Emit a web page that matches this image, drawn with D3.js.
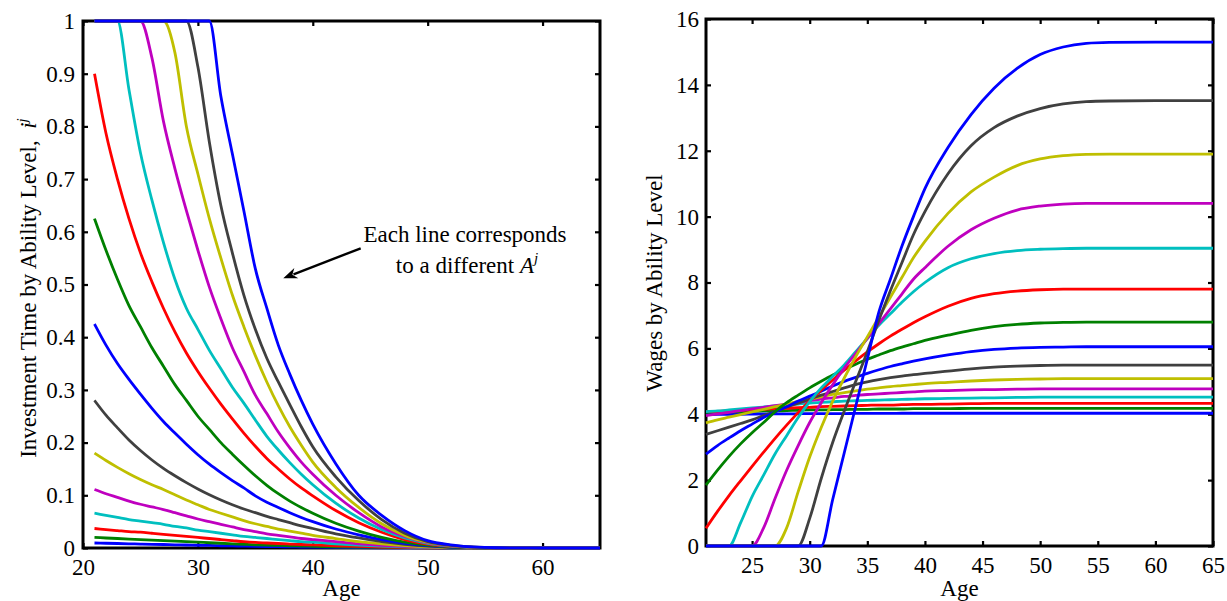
<!DOCTYPE html>
<html><head><meta charset="utf-8">
<script src="https://cdn.jsdelivr.net/npm/d3@7"></script>
<style>
body{margin:0;background:#fff;}
svg text{font-family:"Liberation Serif","Times New Roman",serif !important;fill:#000;}
</style></head><body>
<svg id="chart" width="1227" height="601"></svg>
<script>
// ---- data (ages shared by both panels) ----
const ages = [21,22,23,24,25,26,27,28,29,30,31,32,33,34,35,36,37,38,39,40,42,44,46,48,50,52,54,56,60,65];

// Investment time by ability level (left panel), lowest ability first
const invest01 = [.0095,.009,.0085,.008,.0075,.007,.0066,.0061,.0057,.0052,.0048,.0043,.0039,.0035,.0031,.0028,.0025,.0022,.0019,.0017,.0012,.0008,.0005,.0003,.0001,0,0,0,0,0];
const invest02 = [.02,.019,.018,.017,.016,.015,.014,.013,.012,.011,.01,.009,.008,.007,.006,.0054,.0048,.0042,.0037,.0032,.0024,.0017,.0011,.0006,.0003,.0001,0,0,0,0];
const invest03 = [.037,.035,.033,.031,.03,.028,.026,.024,.022,.02,.018,.016,.014,.012,.0105,.0095,.0085,.0075,.0066,.0058,.0043,.003,.0019,.0011,.0005,.0002,.0001,0,0,0];
const invest04 = [.066,.062,.058,.054,.051,.048,.045,.041,.038,.034,.031,.028,.025,.022,.02,.018,.016,.014,.012,.011,.008,.0055,.0035,.002,.001,.0004,.0001,0,0,0];
const invest05 = [.111,.103,.096,.089,.083,.078,.073,.067,.061,.055,.05,.045,.04,.035,.031,.027,.024,.021,.018,.016,.012,.008,.005,.003,.0015,.0006,.0002,0,0,0];
const invest06 = [.18,.166,.153,.141,.13,.12,.111,.101,.091,.082,.073,.066,.059,.052,.046,.041,.036,.032,.028,.024,.018,.012,.0078,.0045,.0022,.0009,.0003,.0001,0,0];
const invest07 = [.28,.252,.228,.205,.185,.167,.151,.137,.124,.112,.101,.091,.082,.074,.067,.06,.054,.048,.042,.037,.027,.019,.012,.007,.0035,.0014,.0005,.0001,0,0];
const invest08 = [.425,.385,.35,.32,.292,.265,.24,.218,.197,.177,.159,.143,.128,.114,.099,.087,.077,.067,.058,.05,.036,.025,.016,.009,.0045,.0018,.0006,.0002,0,0];
const invest09 = [.625,.565,.51,.46,.42,.38,.345,.31,.28,.25,.225,.2,.178,.157,.137,.119,.103,.089,.077,.066,.047,.032,.02,.011,.0055,.0022,.0008,.0002,0,0];
const invest10 = [.9,.787,.7,.625,.56,.505,.455,.41,.37,.335,.303,.273,.245,.218,.193,.17,.15,.131,.114,.099,.071,.048,.03,.016,.0075,.003,.001,.0003,0,0];
const invest11 = [1,1,1,.87,.75,.66,.58,.51,.455,.415,.375,.34,.305,.275,.243,.212,.186,.162,.14,.12,.085,.057,.035,.019,.009,.0035,.0012,.0003,0,0];
const invest12 = [1,1,1,1,1,.93,.81,.72,.64,.565,.495,.435,.38,.335,.29,.255,.22,.19,.163,.14,.1,.067,.04,.022,.01,.004,.0013,.0003,0,0];
const invest13 = [1,1,1,1,1,1,1,.94,.8,.71,.625,.55,.48,.42,.365,.315,.27,.23,.195,.163,.115,.077,.046,.024,.011,.0045,.0015,.0004,0,0];
const invest14 = [1,1,1,1,1,1,1,1,1,.913,.77,.65,.56,.48,.415,.36,.315,.272,.23,.192,.135,.09,.054,.028,.012,.005,.0018,.0005,0,0];
const invest15 = [1,1,1,1,1,1,1,1,1,1,1,.857,.748,.64,.53,.455,.385,.33,.28,.235,.16,.1,.062,.033,.014,.006,.002,.0005,0,0];

// Wages by ability level (right panel), lowest ability first
const wage01 = [3.99,3.995,4,4,4.005,4.01,4.01,4.01,4.015,4.02,4.02,4.02,4.02,4.025,4.025,4.025,4.025,4.03,4.03,4.03,4.03,4.03,4.03,4.03,4.03,4.03,4.03,4.03,4.03,4.03];
const wage02 = [4.06,4.065,4.07,4.08,4.09,4.1,4.1,4.11,4.12,4.13,4.13,4.14,4.14,4.15,4.15,4.16,4.16,4.16,4.17,4.17,4.17,4.18,4.18,4.18,4.18,4.18,4.18,4.18,4.18,4.18];
const wage03 = [4.08,4.09,4.1,4.12,4.13,4.15,4.17,4.18,4.2,4.21,4.23,4.24,4.25,4.26,4.27,4.28,4.28,4.29,4.3,4.3,4.31,4.32,4.33,4.33,4.33,4.33,4.33,4.33,4.33,4.33];
const wage04 = [4.08,4.1,4.13,4.16,4.19,4.22,4.25,4.28,4.31,4.34,4.36,4.38,4.4,4.41,4.42,4.43,4.44,4.45,4.46,4.47,4.48,4.49,4.5,4.51,4.52,4.52,4.52,4.52,4.52,4.52];
const wage05 = [3.96,4.01,4.06,4.11,4.16,4.21,4.26,4.31,4.36,4.41,4.46,4.5,4.54,4.57,4.6,4.62,4.64,4.66,4.68,4.7,4.72,4.74,4.75,4.76,4.77,4.77,4.77,4.77,4.77,4.77];
const wage06 = [3.74,3.83,3.91,3.99,4.07,4.15,4.23,4.31,4.39,4.46,4.53,4.6,4.66,4.71,4.76,4.8,4.84,4.87,4.9,4.93,4.97,5.01,5.04,5.06,5.07,5.08,5.08,5.08,5.08,5.08];
const wage07 = [3.39,3.5,3.61,3.72,3.83,3.96,4.09,4.22,4.34,4.46,4.58,4.69,4.8,4.9,4.98,5.05,5.11,5.16,5.2,5.24,5.31,5.38,5.43,5.46,5.48,5.49,5.49,5.49,5.49,5.49];
const wage08 = [2.79,3.05,3.28,3.5,3.7,3.9,4.07,4.23,4.4,4.55,4.7,4.86,5,5.12,5.24,5.35,5.45,5.53,5.61,5.68,5.8,5.9,5.97,6.01,6.03,6.04,6.05,6.05,6.05,6.05];
const wage09 = [1.85,2.3,2.72,3.1,3.44,3.75,4.08,4.35,4.58,4.8,5,5.19,5.36,5.52,5.67,5.8,5.93,6.04,6.14,6.24,6.4,6.55,6.66,6.73,6.77,6.79,6.8,6.8,6.8,6.8];
const wage10 = [.54,1.05,1.53,1.98,2.42,2.85,3.27,3.67,4.05,4.4,4.73,5.04,5.34,5.62,5.89,6.14,6.37,6.58,6.78,6.96,7.28,7.52,7.66,7.74,7.78,7.8,7.8,7.8,7.8,7.8];
const wage11 = [0,0,0,.7,1.5,2.15,2.8,3.35,3.9,4.38,4.8,5.15,5.5,5.9,6.3,6.7,7.05,7.4,7.72,8,8.45,8.72,8.88,8.97,9.01,9.03,9.04,9.04,9.04,9.04];
const wage12 = [0,0,0,0,0,.55,1.45,2.3,3.05,3.75,4.35,4.9,5.4,5.85,6.3,6.75,7.2,7.65,8.1,8.45,9.1,9.6,9.95,10.2,10.32,10.38,10.4,10.4,10.4,10.4];
const wage13 = [0,0,0,0,0,0,0,.55,1.65,2.7,3.6,4.4,5.1,5.75,6.35,6.95,7.55,8.15,8.75,9.25,10.1,10.75,11.2,11.55,11.75,11.85,11.89,11.9,11.9,11.9];
const wage14 = [0,0,0,0,0,0,0,0,0,.84,2.05,3.15,4.1,5,5.9,6.85,7.75,8.6,9.45,10.15,11.3,12.15,12.7,13.05,13.28,13.42,13.49,13.51,13.52,13.52];
const wage15 = [0,0,0,0,0,0,0,0,0,0,0,1.42,2.83,4.25,5.67,7.1,8.1,9.1,10,10.85,12.1,13.1,13.9,14.5,14.92,15.15,15.26,15.29,15.3,15.3];

// tick labels
const leftXTicks = [20,30,40,50,60];
const leftYTicks = [0,0.1,0.2,0.3,0.4,0.5,0.6,0.7,0.8,0.9,1];
const rightXTicks = [25,30,35,40,45,50,55,60,65];
const rightYTicks = [0,2,4,6,8,10,12,14,16];

const lineColors = ["#0000ff","#008000","#ff0000","#00bfbf","#bf00bf","#bfbf00","#404040"];

const investSeries = [invest01,invest02,invest03,invest04,invest05,invest06,invest07,invest08,invest09,invest10,invest11,invest12,invest13,invest14,invest15];
const wageSeries = [wage01,wage02,wage03,wage04,wage05,wage06,wage07,wage08,wage09,wage10,wage11,wage12,wage13,wage14,wage15];

// ---- drawing ----
const svg = d3.select("#chart");
const SERIF = "'Liberation Serif','Times New Roman',serif";
const FS_TICK = 23, FS_LABEL = 23;

function drawPanel(opt){
  const x = d3.scaleLinear().domain(opt.xDomain).range(opt.xRange);
  const y = d3.scaleLinear().domain(opt.yDomain).range(opt.yRange);
  const g = svg.append("g");
  const [x0,x1] = opt.xRange, [y0,y1] = opt.yRange; // y0 bottom, y1 top
  const fmt = d3.format("~g");

  const bottom = g.append("g").attr("transform",`translate(0,${y0})`)
    .call(d3.axisBottom(x).tickValues(opt.xTicks).tickFormat(fmt).tickSizeInner(-5).tickSizeOuter(0).tickPadding(11));
  const top = g.append("g").attr("transform",`translate(0,${y1})`)
    .call(d3.axisTop(x).tickValues(opt.xTicks).tickFormat("").tickSizeInner(-5).tickSizeOuter(0));
  const left = g.append("g").attr("transform",`translate(${x0},0)`)
    .call(d3.axisLeft(y).tickValues(opt.yTicks).tickFormat(fmt).tickSizeInner(-5).tickSizeOuter(0).tickPadding(opt.yPad));
  const right = g.append("g").attr("transform",`translate(${x1},0)`)
    .call(d3.axisRight(y).tickValues(opt.yTicks).tickFormat("").tickSizeInner(-5).tickSizeOuter(0));
  [bottom,top,left,right].forEach(a=>{
    a.attr("font-family",SERIF);
    a.select(".domain").remove();
    a.selectAll(".tick line").attr("stroke","#000").attr("stroke-width",2.2);
    a.selectAll(".tick text").attr("font-size",FS_TICK).style("font-family",SERIF).attr("fill","#000");
  });

  g.append("rect").attr("x",x0).attr("y",y1).attr("width",x1-x0).attr("height",y0-y1)
    .attr("fill","none").attr("stroke","#000").attr("stroke-width",3);

  const line = d3.line().x((d,i)=>x(ages[i])).y(d=>y(d)).curve(d3.curveMonotoneX);
  opt.series.forEach((s,i)=>{
    g.append("path").datum(s).attr("d",line).attr("fill","none")
      .attr("stroke",lineColors[i%lineColors.length]).attr("stroke-width",2.8)
      .attr("stroke-linejoin","round").attr("stroke-linecap","butt");
  });

  g.append("text").attr("x",(x0+x1)/2).attr("y",596).attr("text-anchor","middle")
    .attr("font-size",FS_LABEL).style("font-family",SERIF).text("Age");
  return {x,y,g};
}

const L = drawPanel({xDomain:[20,65], xRange:[83,600], yDomain:[0,1], yRange:[548,21],
  xTicks:leftXTicks, yTicks:leftYTicks, yPad:8, series:investSeries});
const R = drawPanel({xDomain:[21,65], xRange:[706,1213], yDomain:[0,16], yRange:[546,19],
  xTicks:rightXTicks, yTicks:rightYTicks, yPad:7, series:wageSeries});

// y labels
const yl = svg.append("text").attr("transform","translate(36,288) rotate(-90)")
  .attr("text-anchor","middle").attr("font-size",FS_LABEL).style("font-family",SERIF);
yl.append("tspan").text("Investment Time by Ability Level,\u00a0\u00a0");
yl.append("tspan").attr("font-style","italic").text("i");
yl.append("tspan").attr("font-style","italic").attr("font-size",15).attr("dy",-9).text("j");

svg.append("text").attr("transform","translate(662,283) rotate(-90)")
  .attr("text-anchor","middle").attr("font-size",FS_LABEL).style("font-family",SERIF).text("Wages by Ability Level");

// annotation (positioned in data coordinates of the left panel)
const annoX = 53.25;
svg.append("text").attr("x",L.x(annoX)).attr("y",L.y(0.581)).attr("text-anchor","middle")
  .attr("font-size",FS_LABEL).style("font-family",SERIF).text("Each line corresponds");
const t2 = svg.append("text").attr("x",L.x(annoX)+2).attr("y",L.y(0.521)).attr("text-anchor","middle")
  .attr("font-size",FS_LABEL).style("font-family",SERIF);
t2.append("tspan").text("to a different ");
t2.append("tspan").attr("font-style","italic").text("A");
t2.append("tspan").attr("font-style","italic").attr("font-size",15).attr("dy",-10).text("j");

// arrow
const tail = [L.x(44.17), L.y(0.5687)], tip = [L.x(37.43), L.y(0.5118)];
const dx = tip[0]-tail[0], dy = tip[1]-tail[1], len = Math.hypot(dx,dy);
const ux = dx/len, uy = dy/len, px = -uy, py = ux;
const hl = 14, hw = 5.5;
const base = [tip[0]-ux*hl, tip[1]-uy*hl];
svg.append("line").attr("x1",tail[0]).attr("y1",tail[1]).attr("x2",base[0]+ux*3).attr("y2",base[1]+uy*3)
  .attr("stroke","#000").attr("stroke-width",2.4);
svg.append("path").attr("d",
  `M${tip[0]},${tip[1]} L${base[0]+px*hw},${base[1]+py*hw} L${tip[0]-ux*hl*0.7},${tip[1]-uy*hl*0.7} L${base[0]-px*hw},${base[1]-py*hw} Z`)
  .attr("fill","#000");
</script>
</body></html>
